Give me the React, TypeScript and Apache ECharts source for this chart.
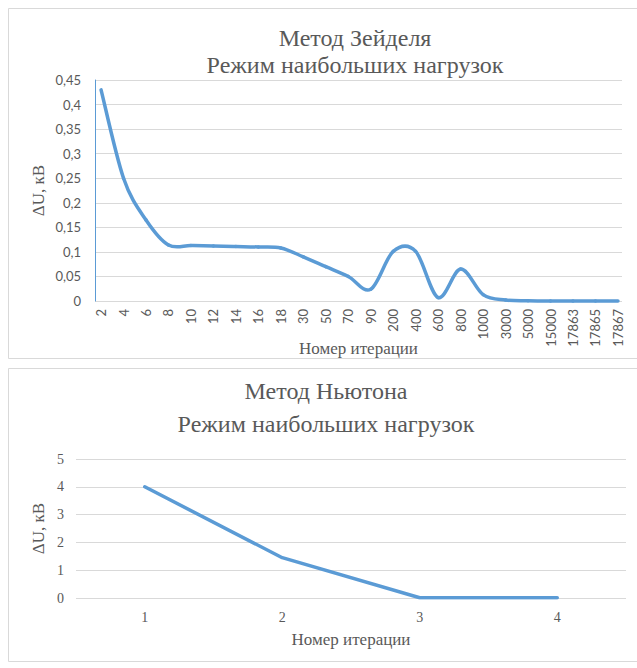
import React, { useEffect, useRef } from "react";
import * as echarts from "echarts";

// Seidel method: voltage mismatch per iteration
const seidelIterations = [
  "2", "4", "6", "8", "10", "12", "14", "16", "18", "30", "50", "70", "90",
  "200", "400", "600", "800", "1000", "3000", "5000", "15000", "17863", "17865", "17867",
];
const seidelDeltaU = [
  0.43, 0.25, 0.165, 0.114, 0.113, 0.112, 0.111, 0.11, 0.108, 0.09, 0.07, 0.05, 0.024,
  0.101, 0.101, 0.007, 0.065, 0.013, 0.002, 0.0005, 0, 0, 0, 0,
];
const seidelTicks = [0, 0.05, 0.1, 0.15, 0.2, 0.25, 0.3, 0.35, 0.4, 0.45];

// Newton method: voltage mismatch per iteration
const newtonIterations = ["1", "2", "3", "4"];
const newtonDeltaU = [4, 1.45, 0.01, 0.01];

const LINE = "#5B9BD5";
const GRID = "#D9D9D9";
const TEXT = "#595959";
const SERIF = "Liberation Serif";
const SANS = "Lato";

export default function App() {
  const ref = useRef<HTMLDivElement>(null);

  useEffect(() => {
    if (!ref.current) return;
    const chart = echarts.init(ref.current, null, { renderer: "svg" });
    const idx = seidelIterations.map((_, i) => i);
    const last = seidelDeltaU.length - 1;
    const clampIdx = (j: number) => Math.max(0, Math.min(last, j));

    chart.setOption({
      animation: false,
      backgroundColor: "#fff",
      title: [
        {
          text: "Метод Зейделя\nРежим наибольших нагрузок",
          left: 355,
          top: 24,
          padding: 0,
          textAlign: "center",
          textStyle: { fontFamily: SERIF, fontSize: 24, fontWeight: "normal", color: TEXT, lineHeight: 27 },
        },
        {
          text: "Метод Ньютона\nРежим наибольших нагрузок",
          left: 326,
          top: 374,
          padding: 0,
          textAlign: "center",
          textStyle: { fontFamily: SERIF, fontSize: 24, fontWeight: "normal", color: TEXT, lineHeight: 33 },
        },
      ],
      graphic: [
        { type: "rect", shape: { x: 8.5, y: 8.5, width: 640, height: 350 }, style: { fill: "none", stroke: GRID, lineWidth: 1 }, silent: true },
        { type: "rect", shape: { x: 8.5, y: 368.5, width: 640, height: 293 }, style: { fill: "none", stroke: GRID, lineWidth: 1 }, silent: true },
      ],
      grid: [
        { left: 95, top: 80, width: 527, height: 221 },
        { left: 76, top: 459, width: 550, height: 139 },
      ],
      xAxis: [
        {
          gridIndex: 0,
          type: "value",
          min: -0.27,
          max: 23.18,
          splitLine: { show: false },
          axisLine: { show: false },
          axisTick: { show: false },
          axisLabel: {
            customValues: idx,
            rotate: 90,
            margin: 8,
            color: TEXT,
            fontFamily: SANS,
            fontSize: 13,
            formatter: (v: number) => seidelIterations[Math.round(v)] ?? "",
          },
          name: "Номер итерации",
          nameLocation: "middle",
          nameGap: 39,
          nameMoveOverlap: false,
          nameTextStyle: { fontFamily: SERIF, fontSize: 17, color: TEXT },
        },
        {
          gridIndex: 1,
          type: "category",
          data: newtonIterations,
          boundaryGap: true,
          axisLine: { show: false },
          axisTick: { show: false },
          axisLabel: { margin: 12, color: TEXT, fontFamily: SERIF, fontSize: 14 },
          name: "Номер итерации",
          nameLocation: "middle",
          nameGap: 33,
          nameMoveOverlap: false,
          nameTextStyle: { fontFamily: SERIF, fontSize: 17, color: TEXT },
        },
      ],
      yAxis: [
        {
          gridIndex: 0,
          type: "value",
          min: 0,
          max: seidelTicks[seidelTicks.length - 1],
          interval: 0.05,
          axisLine: { show: true, onZero: false, lineStyle: { color: LINE, width: 1 } },
          axisTick: { show: false },
          splitLine: { lineStyle: { color: GRID, width: 1 } },
          axisLabel: {
            margin: 14,
            color: TEXT,
            fontFamily: SANS,
            fontSize: 13,
            formatter: (v: number) => String(+v.toFixed(2)).replace(".", ","),
          },
          name: "ΔU, кВ",
          nameLocation: "middle",
          nameRotate: 90,
          nameGap: 48,
          nameMoveOverlap: false,
          nameTextStyle: { fontFamily: SERIF, fontSize: 17, color: TEXT },
        },
        {
          gridIndex: 1,
          type: "value",
          min: 0,
          max: 5,
          interval: 1,
          axisLine: { show: false },
          axisTick: { show: false },
          splitLine: { lineStyle: { color: GRID, width: 1 } },
          axisLabel: { margin: 12, color: TEXT, fontFamily: SERIF, fontSize: 14 },
          name: "ΔU, кВ",
          nameLocation: "middle",
          nameRotate: 90,
          nameGap: 29,
          nameMoveOverlap: false,
          nameTextStyle: { fontFamily: SERIF, fontSize: 17, color: TEXT },
        },
      ],
      series: [
        {
          // smoothed line: one cubic segment per interval, Catmull-Rom style tangents
          type: "custom",
          xAxisIndex: 0,
          yAxisIndex: 0,
          coordinateSystem: "cartesian2d",
          data: seidelDeltaU.map((v, i) => [i, v]),
          encode: { x: 0, y: 1 },
          silent: true,
          renderItem: (params: any, api: any) => {
            const i = params.dataIndex;
            if (i >= last) return null;
            const pt = (j: number) => {
              const k = clampIdx(j);
              return api.coord([k, seidelDeltaU[k]]);
            };
            const p0 = pt(i - 1);
            const p1 = pt(i);
            const p2 = pt(i + 1);
            const p3 = pt(i + 2);
            const t = 1 / 6;
            return {
              type: "bezierCurve",
              shape: {
                x1: p1[0],
                y1: p1[1],
                x2: p2[0],
                y2: p2[1],
                cpx1: p1[0] + (p2[0] - p0[0]) * t,
                cpy1: p1[1] + (p2[1] - p0[1]) * t,
                cpx2: p2[0] - (p3[0] - p1[0]) * t,
                cpy2: p2[1] - (p3[1] - p1[1]) * t,
              },
              style: { stroke: LINE, lineWidth: 3.5, fill: null, lineCap: "round" },
            };
          },
        },
        {
          type: "line",
          xAxisIndex: 1,
          yAxisIndex: 1,
          data: newtonDeltaU,
          showSymbol: false,
          lineStyle: { color: LINE, width: 3.5, cap: "round", join: "round" },
          silent: true,
        },
      ],
    });
    return () => chart.dispose();
  }, []);

  return (
    <div
      ref={ref}
      style={{ position: "absolute", left: 0, top: 0, width: 637, height: 668, background: "#fff" }}
    />
  );
}
